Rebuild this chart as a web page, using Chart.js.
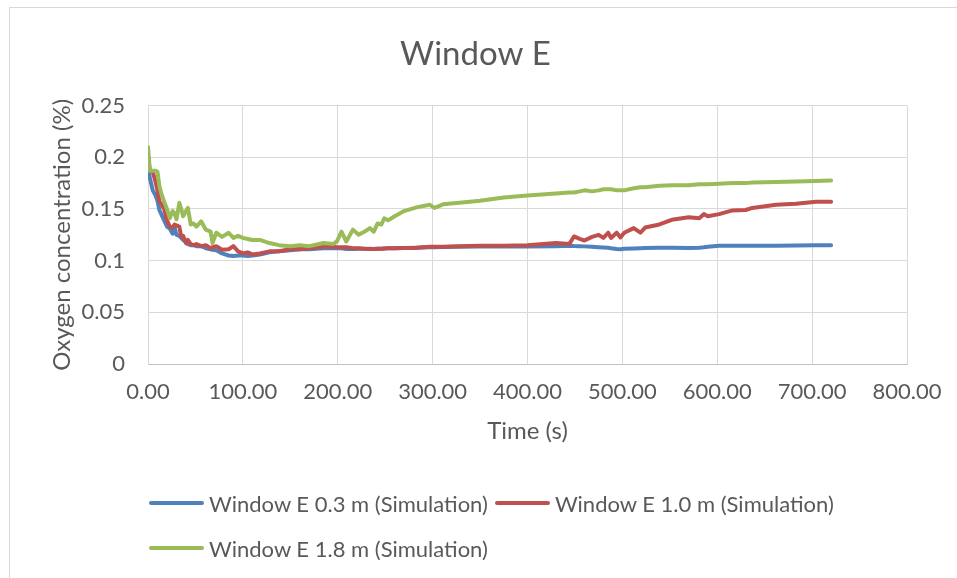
<!DOCTYPE html>
<html>
<head>
<meta charset="utf-8">
<script src="https://cdn.jsdelivr.net/npm/chart.js@4.4.1/dist/chart.umd.min.js"></script>
<style>
  html, body { margin: 0; padding: 0; background: #fff; overflow: hidden; }
  #wrap { position: relative; width: 957px; height: 578px; }
  #frame { position: absolute; left: 9px; top: 7px; width: 1000px; height: 1000px;
           border-left: 1px solid #d9d9d9; border-top: 1px solid #d9d9d9; }
  #legend { position: absolute; left: 149px; top: 487px; width: 720px;
            display: flex; flex-wrap: wrap; column-gap: 7px; row-gap: 13px;
            font-family: Lato, sans-serif; font-size: 22px; color: #595959; }
  .item { display: flex; align-items: center; height: 32px; }
  .swatch { width: 55px; height: 4px; border-radius: 2px; margin-right: 5px; }
</style>
</head>
<body>
<div id="wrap">
  <div id="frame"></div>
  <canvas id="oxygenChart" width="957" height="578"></canvas>
  <div id="legend"></div>
</div>
<script>
// time samples (s)
var times = [0, 2, 5, 8, 10, 12, 14, 17, 20, 23, 26, 28, 30, 33, 35, 37, 40, 42, 45, 48,
  51, 56, 61, 66, 68, 72, 78, 85, 90, 95, 100, 105, 110, 118, 128, 138, 150, 160, 170, 185,
  195, 199, 204, 209, 216, 222, 228, 234, 238, 242, 246, 249, 253, 260, 269, 283, 297, 302, 311, 328,
  350, 375, 400, 430, 444, 449, 455, 460, 468, 475, 480, 485, 488, 494, 498, 502, 512, 519, 524, 539,
  552, 570, 581, 586, 590, 602, 616, 630, 637, 662, 683, 704, 720];

// Window E 0.3 m
var low = [0.190, 0.180, 0.168, 0.163, 0.158, 0.149, 0.145, 0.139, 0.133, 0.131, 0.126, 0.132, 0.125, 0.124, 0.122, 0.120, 0.118, 0.116, 0.115, 0.115,
  0.114, 0.114, 0.112, 0.111, 0.1105, 0.110, 0.107, 0.105, 0.1045, 0.105, 0.105, 0.1045, 0.105, 0.106, 0.108, 0.109, 0.110, 0.111, 0.111, 0.112,
  0.112, 0.112, 0.112, 0.1112, 0.1112, 0.1115, 0.1115, 0.1115, 0.1112, 0.1115, 0.1115, 0.1118, 0.112, 0.112, 0.1122, 0.1125, 0.113, 0.113, 0.1132, 0.1135,
  0.1137, 0.1137, 0.1137, 0.114, 0.1145, 0.1142, 0.114, 0.1138, 0.1135, 0.113, 0.1127, 0.1125, 0.112, 0.1112, 0.111, 0.1115, 0.1118, 0.112, 0.1122, 0.1125,
  0.1125, 0.1122, 0.1125, 0.113, 0.1135, 0.1143, 0.1143, 0.1145, 0.1145, 0.1145, 0.1147, 0.115, 0.115];

// Window E 1.0 m
var mid = [0.200, 0.187, 0.186, 0.176, 0.168, 0.157, 0.155, 0.150, 0.139, 0.133, 0.132, 0.135, 0.134, 0.133, 0.123, 0.124, 0.117, 0.120, 0.116, 0.115,
  0.116, 0.114, 0.115, 0.112, 0.113, 0.114, 0.1105, 0.111, 0.114, 0.109, 0.107, 0.108, 0.106, 0.107, 0.109, 0.109, 0.111, 0.111, 0.112, 0.1135,
  0.1135, 0.113, 0.113, 0.113, 0.112, 0.112, 0.1115, 0.1112, 0.1112, 0.1115, 0.1115, 0.1118, 0.112, 0.112, 0.1122, 0.1125, 0.1135, 0.1135, 0.1135, 0.114,
  0.1145, 0.1145, 0.115, 0.117, 0.116, 0.1234, 0.121, 0.1195, 0.123, 0.125, 0.122, 0.127, 0.122, 0.127, 0.1225, 0.127, 0.1315, 0.127, 0.132, 0.135,
  0.1395, 0.142, 0.141, 0.145, 0.143, 0.145, 0.1486, 0.149, 0.151, 0.154, 0.155, 0.157, 0.157];

// Window E 1.8 m
var high = [0.210, 0.187, 0.187, 0.187, 0.186, 0.172, 0.165, 0.157, 0.150, 0.141, 0.148, 0.146, 0.140, 0.156, 0.150, 0.143, 0.148, 0.151, 0.135, 0.136,
  0.133, 0.138, 0.130, 0.128, 0.117, 0.127, 0.123, 0.127, 0.122, 0.124, 0.122, 0.121, 0.120, 0.120, 0.117, 0.115, 0.114, 0.115, 0.114, 0.117,
  0.116, 0.1185, 0.128, 0.1185, 0.130, 0.125, 0.128, 0.1315, 0.128, 0.136, 0.135, 0.141, 0.139, 0.143, 0.1476, 0.1515, 0.154, 0.151, 0.1545, 0.156,
  0.158, 0.161, 0.163, 0.165, 0.166, 0.166, 0.167, 0.168, 0.167, 0.168, 0.169, 0.169, 0.169, 0.168, 0.168, 0.168, 0.170, 0.171, 0.171, 0.1725,
  0.173, 0.173, 0.174, 0.174, 0.174, 0.1745, 0.175, 0.175, 0.1755, 0.176, 0.1765, 0.177, 0.1775];

var seriesNames = ['Window E 0.3 m (Simulation)', 'Window E 1.0 m (Simulation)', 'Window E 1.8 m (Simulation)'];
var seriesColors = ['#4f81bd', '#c0504d', '#9bbb59'];
var xTickLabels = ['0.00', '100.00', '200.00', '300.00', '400.00', '500.00', '600.00', '700.00', '800.00'];
var yTickLabels = ['0', '0.05', '0.1', '0.15', '0.2', '0.25'];

var textColor = '#595959';
var gridColor = '#d9d9d9';

function points(values) {
    return times.map(function (t, i) { return { x: t, y: values[i] }; });
}

var datasets = [low, mid, high].map(function (vals, i) {
    return {
        label: seriesNames[i],
        data: points(vals),
        borderColor: seriesColors[i],
        backgroundColor: seriesColors[i],
        borderWidth: 4,
        pointRadius: 0,
        tension: 0,
        borderJoinStyle: 'round',
        borderCapStyle: 'round',
        order: 3 - i // later series drawn on top, like Excel
    };
});

var ctx = document.getElementById('oxygenChart').getContext('2d');
var chart = new Chart(ctx, {
    type: 'line',
    data: { datasets: datasets },
    options: {
        responsive: false,
        animation: false,
        layout: { padding: { left: 44, right: 50, top: 20, bottom: 130 } },
        plugins: {
            legend: { display: false },
            tooltip: { enabled: false },
            title: {
                display: true,
                text: 'Window E',
                color: textColor,
                font: { family: 'Lato', size: 33, weight: 'normal' },
                padding: { top: 15, bottom: 31 }
            }
        },
        scales: {
            x: {
                type: 'linear',
                min: 0,
                max: 800,
                afterFit: function (scale) { scale.height = 84; },
                ticks: {
                    stepSize: 100,
                    autoSkip: false,
                    maxRotation: 0,
                    padding: 15,
                    color: textColor,
                    font: { family: 'Lato', size: 22 },
                    callback: function (v, i) { return xTickLabels[i]; }
                },
                grid: { color: gridColor, drawTicks: false },
                border: { color: '#bfbfbf' },
                title: {
                    display: true,
                    text: 'Time (s)',
                    color: textColor,
                    font: { family: 'Lato', size: 24 },
                    padding: { top: 4, bottom: 2 }
                }
            },
            y: {
                min: 0,
                max: 0.25,
                afterFit: function (scale) { scale.width = 104; },
                ticks: {
                    stepSize: 0.05,
                    padding: 23,
                    color: textColor,
                    font: { family: 'Lato', size: 22 },
                    callback: function (v, i) { return yTickLabels[i]; }
                },
                grid: { color: gridColor, drawTicks: false },
                border: { color: gridColor },
                title: {
                    display: true,
                    text: 'Oxygen concentration (%)',
                    color: textColor,
                    font: { family: 'Lato', size: 24 },
                    padding: { top: 4, bottom: 4 }
                }
            }
        }
    }
});

// legend below the chart, left aligned with the plot area
var legend = document.getElementById('legend');
seriesNames.forEach(function (name, i) {
    var item = document.createElement('div');
    item.className = 'item';
    var sw = document.createElement('span');
    sw.className = 'swatch';
    sw.style.background = seriesColors[i];
    var label = document.createElement('span');
    label.textContent = name;
    item.appendChild(sw);
    item.appendChild(label);
    legend.appendChild(item);
});
</script>
</body>
</html>
